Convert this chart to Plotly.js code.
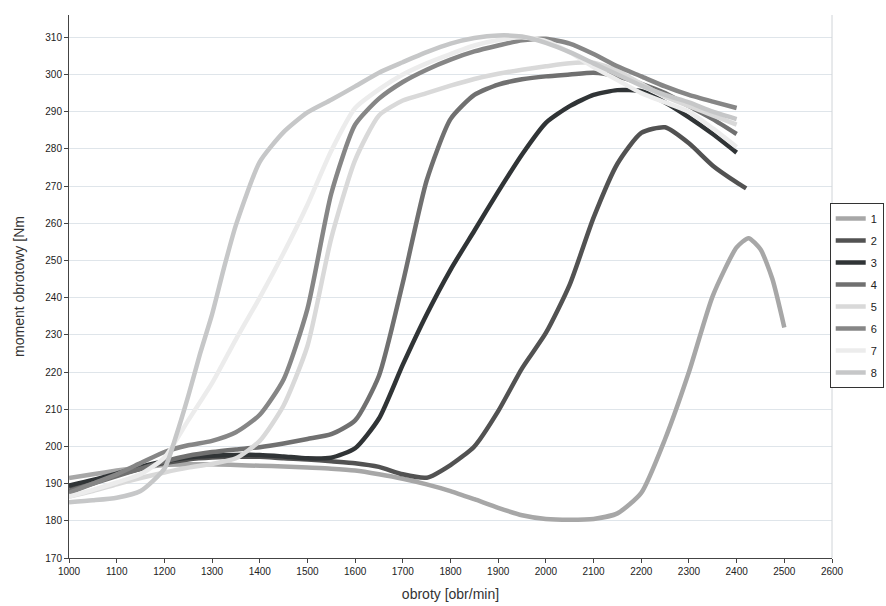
<!DOCTYPE html>
<html>
<head>
<meta charset="utf-8">
<script src="https://cdn.plot.ly/plotly-3.0.1.min.js"></script>
<style>html,body{margin:0;padding:0;background:#fff;}#chart{width:886px;height:606px;}</style>
</head>
<body>
<div id="chart"></div>
<script>
// Series names (legend labels)
const seriesNames = ["1", "2", "3", "4", "5", "6", "7", "8"];

// rpm values
const rpm1 = [1000,1050,1100,1150,1200,1250,1300,1350,1400,1450,1500,1550,1600,1650,1700,1750,1800,1850,1900,1950,2000,2050,2100,2150,2200,2250,2300,2350,2400,2425,2450,2475,2500];
const torque1 = [191.5,192.5,193.5,194.3,195,195.2,195.2,195,194.8,194.6,194.3,194,193.5,192.5,191.3,189.8,188,185.8,183.5,181.5,180.5,180.3,180.5,182,187.5,202,220,240.5,253.5,256,253,245,232];

const rpm2 = [1000,1050,1100,1150,1200,1250,1300,1350,1400,1450,1500,1550,1600,1650,1700,1750,1800,1850,1900,1950,2000,2050,2100,2150,2200,2250,2300,2350,2400,2420];
const torque2 = [189,190.5,192.3,194,195.5,196.5,197,197.2,197.2,196.8,196.5,196,195.5,194.5,192.5,191.6,195,200,209.5,221,230.5,243.5,261.5,276,284.3,285.8,281.5,275.5,271,269.4];

const rpm3 = [1000,1050,1100,1150,1200,1250,1300,1350,1400,1450,1500,1550,1600,1650,1700,1750,1800,1850,1900,1950,2000,2050,2100,2150,2200,2250,2300,2350,2400];
const torque3 = [189.5,191,192.7,194.5,196,197,197.5,197.7,197.7,197.3,196.8,197,199.5,207.5,222,235.5,247.5,258,268.5,278.5,287,291.5,294.5,295.8,295.5,292.5,288.5,284,279];

const rpm4 = [1000,1050,1100,1150,1200,1250,1300,1350,1400,1450,1500,1550,1600,1650,1700,1750,1800,1850,1900,1950,2000,2050,2100,2150,2200,2250,2300,2350,2400];
const torque4 = [188,190,192,194,196,197.5,198.5,199.2,199.8,200.8,202,203.3,207,219,244,271.5,288,294.5,297.3,298.7,299.5,300,300.5,299.5,297.5,295,291.5,288,284];

const rpm5 = [1000,1050,1100,1150,1200,1250,1300,1350,1400,1450,1500,1550,1600,1650,1700,1750,1800,1850,1900,1950,2000,2050,2100,2150,2200,2250,2300,2350,2400];
const torque5 = [186.5,188,189.8,191.5,193,194.3,195.3,196.8,201.5,211,227,256,277,289,293,295,297,298.8,300.2,301.3,302.2,303,303.2,301,297.5,294,291.5,289,286.5];

const rpm6 = [1000,1050,1100,1150,1200,1250,1300,1350,1400,1450,1500,1550,1600,1650,1700,1750,1800,1850,1900,1950,2000,2050,2100,2150,2200,2250,2300,2350,2400];
const torque6 = [187.5,190,192.5,195.5,198.5,200.3,201.5,203.8,208.5,218,237,268,286.5,293.5,298,301.3,304,306.2,307.8,309.2,309.6,308.3,305.5,302.2,299.5,296.8,294.5,292.7,291];

const rpm7 = [1000,1050,1100,1150,1200,1250,1300,1350,1400,1450,1500,1550,1600,1650,1700,1750,1800,1850,1900,1950,2000,2050,2100,2150,2200,2250,2300,2350,2400];
const torque7 = [186.5,188.3,190.3,192.5,197,207,217,228.8,240,252,265,279.5,291,296,300,303,305.5,307.8,309.3,310,309,306,302,298.5,295,292.5,290,285.5,280.5];

const rpm8 = [1000,1050,1100,1150,1200,1225,1250,1275,1300,1325,1350,1400,1450,1500,1550,1600,1650,1700,1750,1800,1850,1900,1950,2000,2050,2100,2150,2200,2250,2300,2350,2400];
const torque8 = [185,185.5,186.2,188,194,203,213.5,225,235.5,248,259.5,276.5,284.5,289.8,293.2,296.8,300.5,303.3,306,308.3,309.8,310.5,310.2,308.5,306,303,300,297,294.5,292.5,290,288];

const seriesColors = ["#a7a7a7", "#525252", "#303436", "#707070", "#d9d9d9", "#868686", "#ececec", "#c6c7c8"];

const xs = [rpm1, rpm2, rpm3, rpm4, rpm5, rpm6, rpm7, rpm8];
const ys = [torque1, torque2, torque3, torque4, torque5, torque6, torque7, torque8];

const traces = seriesNames.map((n, i) => ({
  type: "scatter",
  mode: "lines",
  name: n,
  legendgroup: "g" + i,
  x: xs[i],
  y: ys[i],
  line: {color: seriesColors[i], width: 4.5, shape: "spline", smoothing: 0.6}
}));

const tickFont = {family: "Liberation Sans, Arial, sans-serif", size: 10, color: "#222"};

const layout = {
  width: 886,
  height: 606,
  paper_bgcolor: "#fff",
  plot_bgcolor: "#fff",
  margin: {l: 69, r: 54, t: 15, b: 48, autoexpand: false},
  showlegend: true,
  legend: {
    x: 0.997, xanchor: "left",
    y: 0.654, yanchor: "top",
    bgcolor: "#fff",
    bordercolor: "#333",
    borderwidth: 1,
    font: {family: "Liberation Sans, Arial, sans-serif", size: 11, color: "#222"},
    traceorder: "grouped",
    tracegroupgap: 3
  },
  xaxis: {
    range: [1000, 2600],
    dtick: 100,
    tick0: 1000,
    showgrid: false,
    zeroline: false,
    showline: true,
    linecolor: "#444",
    linewidth: 1,
    ticks: "outside",
    ticklen: 4,
    tickcolor: "#444",
    tickfont: tickFont,
    title: {text: "obroty [obr/min]", font: {family: "Liberation Sans, Arial, sans-serif", size: 14, color: "#333"}, standoff: 13}
  },
  yaxis: {
    range: [170, 316],
    dtick: 10,
    tick0: 170,
    showgrid: true,
    gridcolor: "#dfe5ea",
    gridwidth: 1,
    zeroline: false,
    showline: true,
    linecolor: "#444",
    linewidth: 1,
    ticks: "outside",
    ticklen: 4,
    tickcolor: "#444",
    tickfont: tickFont,
    title: {text: "moment obrotowy [Nm", font: {family: "Liberation Sans, Arial, sans-serif", size: 14, color: "#333"}, standoff: 17}
  },
  shapes: [{
    type: "line", xref: "paper", yref: "paper",
    x0: 1, x1: 1, y0: 0, y1: 1,
    line: {color: "#d0d4d8", width: 1}
  }]
};

Plotly.newPlot("chart", traces, layout, {displayModeBar: false, staticPlot: true});
</script>
</body>
</html>
